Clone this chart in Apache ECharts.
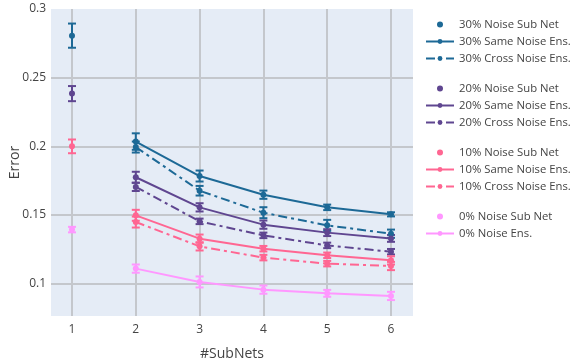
<!DOCTYPE html>
<html>
<head>
<meta charset="utf-8">
<script src="https://cdn.jsdelivr.net/npm/echarts@6/dist/echarts.min.js"></script>
<style>
  html, body { margin: 0; padding: 0; background: #fff; }
  #chart { width: 573px; height: 362px; }
</style>
</head>
<body>
<div id="chart"></div>
<script>
// x positions of the ensembles
var subNets = [2, 3, 4, 5, 6];

// single sub nets, read at x = 1: [mean, err]
var sub30 = [0.2806, 0.0088];
var sub20 = [0.2384, 0.0055];
var sub10 = [0.2000, 0.0050];
var sub0 = [0.1394, 0.0020];

// ensembles
var same30 = [0.2035, 0.1784, 0.1648, 0.1556, 0.1505];
var same30Err = [0.0060, 0.0040, 0.0030, 0.0020, 0.0015];
var cross30 = [0.1995, 0.1677, 0.1517, 0.1425, 0.1364];
var cross30Err = [0.0040, 0.0035, 0.0040, 0.0040, 0.0030];

var same20 = [0.1775, 0.1556, 0.1430, 0.1372, 0.1330];
var same20Err = [0.0040, 0.0030, 0.0030, 0.0025, 0.0025];
var cross20 = [0.1705, 0.1454, 0.1352, 0.1279, 0.1233];
var cross20Err = [0.0030, 0.0020, 0.0020, 0.0020, 0.0020];

var same10 = [0.1498, 0.1328, 0.1255, 0.1207, 0.1170];
var same10Err = [0.0040, 0.0030, 0.0020, 0.0020, 0.0030];
var cross10 = [0.1449, 0.1272, 0.1190, 0.1146, 0.1129];
var cross10Err = [0.0040, 0.0030, 0.0020, 0.0020, 0.0030];

var ens0 = [0.1110, 0.1013, 0.0957, 0.0930, 0.0911];
var ens0Err = [0.0030, 0.0040, 0.0030, 0.0025, 0.0030];

var c30 = '#1D6996', c20 = '#5F4690', c10 = '#FF6692', c0 = '#FF97FF';
var dashdot = [9, 4, 3, 4];
var font = 'Open Sans';

function pts(ys) {
  return subNets.map(function (x, i) { return [x, ys[i]]; });
}
function bars(ys, errs) {
  return subNets.map(function (x, i) { return [x, ys[i] - errs[i], ys[i] + errs[i]]; });
}

function errorSeries(data, color) {
  return {
    type: 'custom',
    data: data,
    z: 3,
    silent: true,
    encode: { x: 0, y: [1, 2] },
    renderItem: function (params, api) {
      var lo = api.coord([api.value(0), api.value(1)]);
      var hi = api.coord([api.value(0), api.value(2)]);
      var w = 4;
      var st = { stroke: color, lineWidth: 2 };
      return {
        type: 'group',
        children: [
          { type: 'line', shape: { x1: lo[0], y1: lo[1], x2: hi[0], y2: hi[1] }, style: st },
          { type: 'line', shape: { x1: lo[0] - w, y1: lo[1], x2: lo[0] + w, y2: lo[1] }, style: st },
          { type: 'line', shape: { x1: hi[0] - w, y1: hi[1], x2: hi[0] + w, y2: hi[1] }, style: st }
        ]
      };
    }
  };
}

function subSeries(name, d, color) {
  return {
    name: name, type: 'scatter', data: [[1, d[0]]], z: 4,
    symbol: 'circle', symbolSize: 6, itemStyle: { color: color, opacity: 1 }
  };
}
function lineSeries(name, ys, color, dash) {
  return {
    name: name, type: 'line', data: pts(ys), z: 4,
    symbol: 'circle', symbolSize: 6, showSymbol: true,
    itemStyle: { color: color },
    lineStyle: { color: color, width: 2, type: dash || 'solid' }
  };
}

function legendAt(top, names) {
  return {
    orient: 'vertical', left: 420, top: top,
    itemWidth: 28, itemHeight: 6, itemGap: 6,
    textStyle: { fontFamily: font, fontSize: 11.3, color: '#444' },
    data: names
  };
}

var series = [
  errorSeries([[1, sub30[0] - sub30[1], sub30[0] + sub30[1]]], c30),
  errorSeries([[1, sub20[0] - sub20[1], sub20[0] + sub20[1]]], c20),
  errorSeries([[1, sub10[0] - sub10[1], sub10[0] + sub10[1]]], c10),
  errorSeries([[1, sub0[0] - sub0[1], sub0[0] + sub0[1]]], c0),
  errorSeries(bars(same30, same30Err), c30),
  errorSeries(bars(cross30, cross30Err), c30),
  errorSeries(bars(same20, same20Err), c20),
  errorSeries(bars(cross20, cross20Err), c20),
  errorSeries(bars(same10, same10Err), c10),
  errorSeries(bars(cross10, cross10Err), c10),
  errorSeries(bars(ens0, ens0Err), c0),
  subSeries('30% Noise Sub Net', sub30, c30),
  lineSeries('30% Same Noise Ens.', same30, c30),
  lineSeries('30% Cross Noise Ens.', cross30, c30, dashdot),
  subSeries('20% Noise Sub Net', sub20, c20),
  lineSeries('20% Same Noise Ens.', same20, c20),
  lineSeries('20% Cross Noise Ens.', cross20, c20, dashdot),
  subSeries('10% Noise Sub Net', sub10, c10),
  lineSeries('10% Same Noise Ens.', same10, c10),
  lineSeries('10% Cross Noise Ens.', cross10, c10, dashdot),
  subSeries('0% Noise Sub Net', sub0, c0),
  lineSeries('0% Noise Ens.', ens0, c0)
];

var option = {
  animation: false,
  textStyle: { fontFamily: font },
  grid: {
    left: 51, top: 9, right: 160, bottom: 46,
    outerBoundsMode: 'none', containLabel: false,
    show: true, backgroundColor: '#E5ECF6', borderWidth: 0
  },
  legend: [
    legendAt(14, ['30% Noise Sub Net', '30% Same Noise Ens.', '30% Cross Noise Ens.']),
    legendAt(78, ['20% Noise Sub Net', '20% Same Noise Ens.', '20% Cross Noise Ens.']),
    legendAt(142, ['10% Noise Sub Net', '10% Same Noise Ens.', '10% Cross Noise Ens.']),
    legendAt(206, ['0% Noise Sub Net', '0% Noise Ens.'])
  ],
  xAxis: {
    type: 'value', min: 0.671, max: 6.345,
    name: '#SubNets', nameLocation: 'middle', nameGap: 31, nameMoveOverlap: false,
    nameTextStyle: { fontFamily: font, fontSize: 14, color: '#444' },
    axisLine: { show: false }, axisTick: { show: false },
    axisLabel: { showMinLabel: false, showMaxLabel: false, fontFamily: font, fontSize: 12, color: '#444', margin: 8 },
    splitLine: { show: true, showMinLine: false, showMaxLine: false, lineStyle: { color: '#c4c7cc', width: 2 } }
  },
  yAxis: {
    type: 'value', min: 0.0765, max: 0.3,
    name: 'Error', nameLocation: 'middle', nameGap: 29, nameMoveOverlap: false,
    nameTextStyle: { fontFamily: font, fontSize: 14, color: '#444' },
    axisLine: { show: false }, axisTick: { show: false },
    axisLabel: { showMinLabel: false, fontFamily: font, fontSize: 12, color: '#444', margin: 5 },
    splitLine: { show: true, showMinLine: false, showMaxLine: false, lineStyle: { color: '#c4c7cc', width: 2 } }
  },
  series: series
};

var myChart = echarts.init(document.getElementById('chart'));
myChart.setOption(option);
</script>
</body>
</html>
